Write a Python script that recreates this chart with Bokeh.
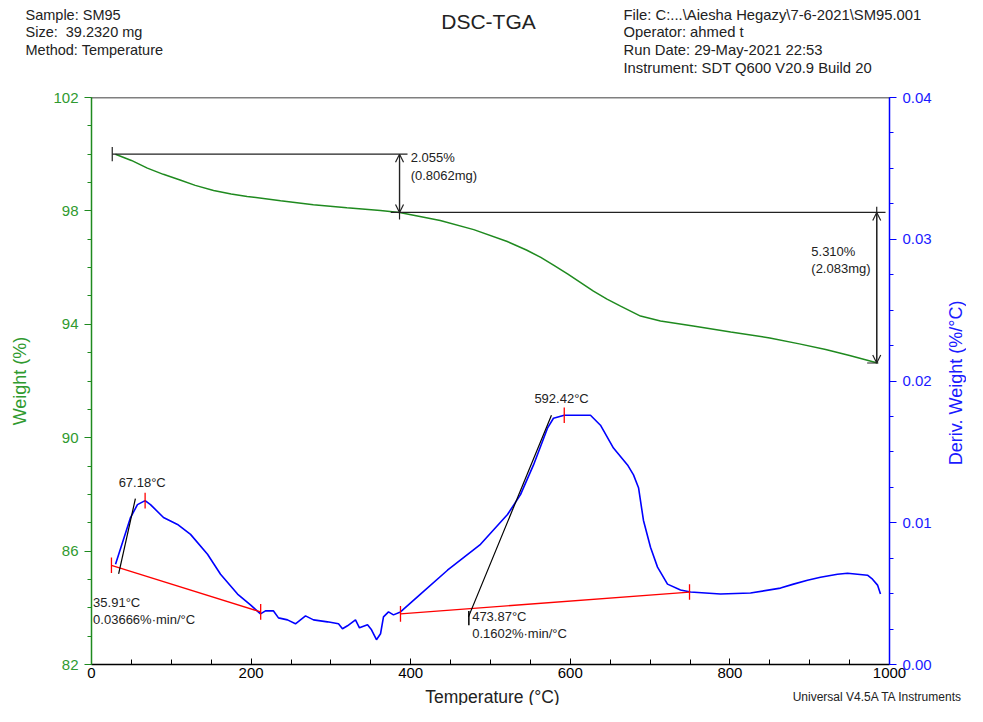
from bokeh.plotting import figure
from bokeh.layouts import column, row
from bokeh.models import (Range1d, LinearAxis, FixedTicker, Label, Arrow, OpenHead,
                          Span, PrintfTickFormatter)
from bokeh.embed import file_html
from bokeh.resources import INLINE
import math

# ---------------- data ----------------
temp_tga = [30, 50, 70, 90, 111, 130, 153, 175, 195, 237, 278, 320, 362, 386, 410, 437,
            479, 521, 545, 563, 580, 597, 613, 629, 646, 663, 688, 713, 754, 801, 850,
            887, 920, 950, 985]
weight = [100.00, 99.78, 99.51, 99.29, 99.09, 98.90, 98.72, 98.60, 98.51, 98.36, 98.22,
          98.11, 98.01, 97.945, 97.81, 97.66, 97.34, 96.92, 96.62, 96.36, 96.07, 95.77,
          95.47, 95.17, 94.89, 94.64, 94.29, 94.12, 93.94, 93.73, 93.52, 93.31, 93.11,
          92.90, 92.635]

temp_dtg = [30.1, 48.9, 57.6, 67.2, 73.9, 90.2, 107.8, 124.1, 145.4, 161.7, 183.0, 199.2,
            211.8, 218.0, 228.1, 234.3, 245.6, 255.6, 268.2, 278.2, 295.7, 309.5, 314.5,
            320.8, 330.8, 335.8, 345.9, 350.9, 357.1, 362.2, 365.9, 372.2, 378.4, 387.2,
            412.3, 446.1, 487.5, 521.3, 537.6, 553.9, 571.4, 578.9, 592.4, 625.3, 637.8,
            654.1, 671.7, 679.2, 685.5, 691.7, 700.5, 709.3, 721.8, 738.1, 750.6, 788.2,
            825.8, 863.4, 879.7, 897.2, 913.5, 934.8, 947.4, 959.9, 972.4, 978.7, 985.0,
            988.7]
deriv = [0.00708, 0.01037, 0.01128, 0.01156, 0.01128, 0.01037, 0.00988, 0.00918, 0.00778,
         0.00637, 0.00497, 0.00420, 0.00357, 0.00378, 0.00378, 0.00329, 0.00315, 0.00287,
         0.00343, 0.00315, 0.00301, 0.00287, 0.00252, 0.00273, 0.00315, 0.00259, 0.00280,
         0.00245, 0.00175, 0.00217, 0.00336, 0.00371, 0.00350, 0.00371, 0.00497, 0.00665,
         0.00848, 0.01058, 0.01198, 0.01408, 0.01667, 0.01737, 0.01758, 0.01758, 0.01688,
         0.01527, 0.01408, 0.01338, 0.01247, 0.01016, 0.00827, 0.00687, 0.00567, 0.00525,
         0.00511, 0.00497, 0.00504, 0.00539, 0.00567, 0.00595, 0.00616, 0.00637, 0.00644,
         0.00637, 0.00630, 0.00602, 0.00560, 0.00497]

# weight-step analysis
step_temps = [26, 386, 984]
step_weights = [100.0, 97.945, 92.635]
step_texts = [["2.055%", "(0.8062mg)"], ["5.310%", "(2.083mg)"]]

# DTG peak analysis
peak_temps = [67.18, 592.42]
peak_vals = [0.01156, 0.01758]
peak_texts = ["67.18°C", "592.42°C"]
onset_temps = [35.91, 473.87]
onset_texts = [["35.91°C", "0.03666%·min/°C"], ["473.87°C", "0.1602%·min/°C"]]
base_t0 = [25, 387.2]
base_v0 = [0.00700, 0.00357]
base_t1 = [212, 749.4]
base_v1 = [0.00371, 0.00511]
tan_t0 = [34, 472.4]
tan_v0 = [0.0064, 0.00336]
tan_t1 = [55, 576.4]
tan_v1 = [0.0117, 0.01758]

x_ticks = [0, 200, 400, 600, 800, 1000]
y_ticks = [82, 86, 90, 94, 98, 102]
d_ticks = [0.0, 0.01, 0.02, 0.03, 0.04]

header_left = ["Sample: SM95", "Size: \u00a039.2320 mg", "Method: Temperature"]
header_right = ["File: C:...\\Aiesha Hegazy\\7-6-2021\\SM95.001", "Operator: ahmed t",
                "Run Date: 29-May-2021 22:53", "Instrument: SDT Q600 V20.9 Build 20"]
title_text = "DSC-TGA"

# ---------------- styling ----------------
FONT = "Liberation Sans"
GREEN = "#1f8a1f"
GREEN_T = "#2f9a2f"
BLUE = "#0000ff"
BLUE_T = "#1a1aff"
TXT = "#222222"
K = "#222222"

TOTAL_W = 966
HEAD_H = 82
MAIN_W, MAIN_H = 940, 604
FOOT_H = 19


def text_fig(w, h, x0, y0):
    """A bare figure whose data coordinates equal picture pixels."""
    f = figure(width=w, height=h, x_range=Range1d(x0, x0 + w), y_range=Range1d(y0 + h, y0),
               output_backend="svg", toolbar_location=None, x_axis_location=None,
               y_axis_location=None, min_border=0)
    f.outline_line_color = None
    f.grid.visible = False
    f.background_fill_color = "white"
    f.border_fill_color = "white"
    return f


def add_label(f, text, x, y, size="13px", color=TXT, align="left", baseline="middle",
              angle=0.0, range_name="default"):
    f.add_layout(Label(text=text, x=x, y=y, text_font=FONT, text_font_size=size,
                       text_color=color, text_align=align, text_baseline=baseline,
                       angle=angle, y_range_name=range_name))


# ---------------- header ----------------
head = text_fig(TOTAL_W, HEAD_H, 0, 0)
for i, t in enumerate(header_left):
    add_label(head, t, 25, 14 + 17.7 * i, size="14.5px")
for i, t in enumerate(header_right):
    add_label(head, t, 623, 14 + 17.7 * i, size="14.8px")
add_label(head, title_text, 488, 21, size="21px", align="center")

# ---------------- main plot ----------------
p = figure(width=MAIN_W, height=MAIN_H, output_backend="svg", toolbar_location=None,
           x_range=Range1d(0, 1000), y_range=Range1d(82, 102),
           min_border_left=91, min_border_right=51, min_border_top=15,
           min_border_bottom=22)
p.outline_line_color = None
p.xgrid.visible = False
p.ygrid.visible = False
p.background_fill_color = "white"
p.border_fill_color = "white"
p.extra_y_ranges = {"d": Range1d(0, 0.04)}

xa = p.xaxis[0]
xa.ticker = FixedTicker(ticks=x_ticks, minor_ticks=list(range(0, 1001, 50)))
xa.axis_line_color = "black"
xa.axis_line_width = 1.3
xa.major_tick_in = 6
xa.major_tick_out = 0
xa.minor_tick_in = 5
xa.minor_tick_out = 0
xa.major_tick_line_color = "black"
xa.minor_tick_line_color = "black"
xa.major_label_text_font = FONT
xa.major_label_text_font_size = "15px"
xa.major_label_text_color = "black"
xa.major_label_standoff = 3

ya = p.yaxis[0]
ya.ticker = FixedTicker(ticks=y_ticks, minor_ticks=list(range(82, 103)))
ya.axis_line_color = GREEN
ya.axis_line_width = 1.5
ya.major_tick_in = 0
ya.major_tick_out = 7
ya.minor_tick_in = 0
ya.minor_tick_out = 4
ya.major_tick_line_color = GREEN
ya.minor_tick_line_color = GREEN
ya.major_label_text_font = FONT
ya.major_label_text_font_size = "15px"
ya.major_label_text_color = GREEN_T
ya.major_label_standoff = 6
ya.axis_label = "Weight (%)"
ya.axis_label_text_font = FONT
ya.axis_label_text_font_style = "normal"
ya.axis_label_text_font_size = "18px"
ya.axis_label_text_color = GREEN_T
ya.axis_label_standoff = 20

ra = LinearAxis(y_range_name="d")
ra.ticker = FixedTicker(ticks=d_ticks, minor_ticks=[i * 0.0025 for i in range(17)])
ra.formatter = PrintfTickFormatter(format="%.2f")
ra.axis_line_color = BLUE
ra.axis_line_width = 1.5
ra.major_tick_in = 0
ra.major_tick_out = 7
ra.minor_tick_in = 0
ra.minor_tick_out = 4
ra.major_tick_line_color = BLUE
ra.minor_tick_line_color = BLUE
ra.major_label_text_font = FONT
ra.major_label_text_font_size = "15px"
ra.major_label_text_color = BLUE_T
ra.major_label_standoff = 6
p.add_layout(ra, "right")

p.add_layout(Span(location=102, dimension="width", line_color="black", line_width=1.3))

# curves
p.line(temp_tga, weight, line_color=GREEN, line_width=1.5)
p.line(temp_dtg, deriv, line_color=BLUE, line_width=1.6, y_range_name="d")

# weight step annotations
t0, t1, t2 = step_temps
w0, w1, w2 = step_weights
p.segment(x0=[t0, t1 - 11], y0=[w0, w1], x1=[t1 + 10, t2 + 11], y1=[w0, w1],
          line_color=K, line_width=1.2)
p.segment(x0=[t0, t1, t2, t2 - 12], y0=[w0 - 0.25, w0 - 0.25, w1 + 0.2, w2],
          x1=[t0, t1, t2, t2 + 2], y1=[w0 + 0.25, w1 - 0.25, w2, w2],
          line_color=K, line_width=1.2)
for (xa_, ya0, ya1) in [(t1, w1, w0), (t2, w2, w1)]:
    p.add_layout(Arrow(start=OpenHead(size=8, line_color=K, line_width=1.2),
                       end=OpenHead(size=8, line_color=K, line_width=1.2),
                       x_start=xa_, y_start=ya0, x_end=xa_, y_end=ya1,
                       line_color=K, line_width=1.2))

add_label(p, step_texts[0][0], t1 + 14, 99.88)
add_label(p, step_texts[0][1], t1 + 14, 99.26)
add_label(p, step_texts[1][0], 902, 96.57)
add_label(p, step_texts[1][1], 902, 95.97)

# DTG peak annotations
p.segment(x0=base_t0, y0=base_v0, x1=base_t1, y1=base_v1, line_color="#ff0000",
          line_width=1.3, y_range_name="d")
TK = 0.00055
p.segment(x0=base_t0 + base_t1 + peak_temps,
          y0=[v - TK for v in base_v0 + base_v1 + peak_vals],
          x1=base_t0 + base_t1 + peak_temps,
          y1=[v + TK for v in base_v0 + base_v1 + peak_vals],
          line_color="#ff0000", line_width=1.3, y_range_name="d")
p.segment(x0=tan_t0, y0=tan_v0, x1=tan_t1, y1=tan_v1, line_color="black",
          line_width=1.2, y_range_name="d")
p.segment(x0=[onset_temps[1] - 1], y0=[base_v0[1] - 0.0008], x1=[onset_temps[1] - 1],
          y1=[base_v0[1] + 0.0002], line_color="black", line_width=1.5, y_range_name="d")

add_label(p, peak_texts[0], 34, 0.01282, range_name="d")
add_label(p, peak_texts[1], 555, 0.01877, range_name="d")
add_label(p, onset_texts[0][0], 2, 0.00434, range_name="d")
add_label(p, onset_texts[0][1], 2, 0.00315, range_name="d")
add_label(p, onset_texts[1][0], 477, 0.00336, range_name="d")
add_label(p, onset_texts[1][1], 477, 0.00217, range_name="d")

# right-hand axis title
side = text_fig(TOTAL_W - MAIN_W, MAIN_H, MAIN_W, HEAD_H)
add_label(side, "Deriv. Weight (%/°C)", 955, 386, size="18px", color=BLUE_T,
          align="center", angle=math.pi / 2)

# footer
foot = text_fig(TOTAL_W, FOOT_H, 0, HEAD_H + MAIN_H)
add_label(foot, "Temperature (°C)", 492, 696, size="17.5px", align="center")
add_label(foot, "Universal V4.5A TA Instruments", 962, 696, size="12px", align="right")

layout = column(head, row(p, side, spacing=0), foot, spacing=0)

open("out.html", "w").write(file_html(layout, INLINE))
